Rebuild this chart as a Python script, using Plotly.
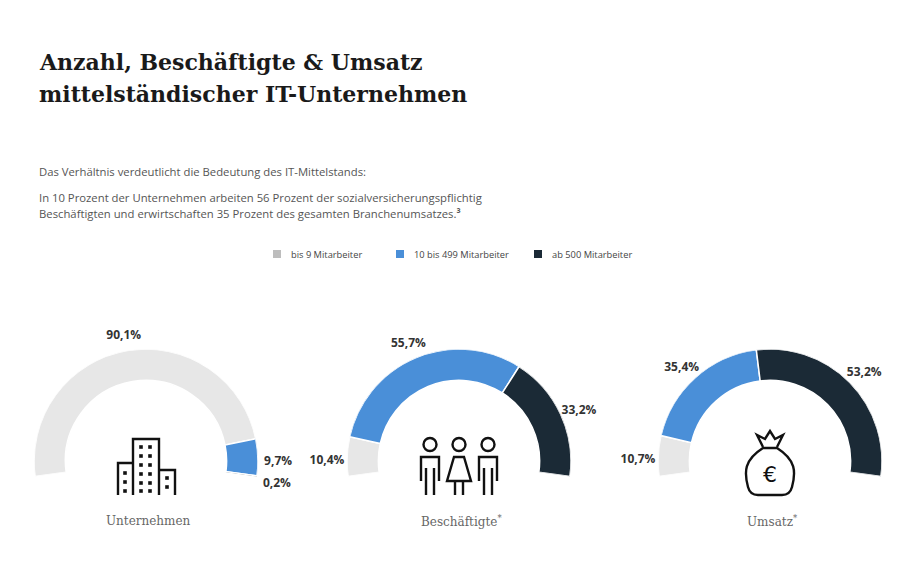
import math
import plotly.graph_objects as go

# ---------------- data ----------------
categories = ["Unternehmen", "Beschäftigte<sup>*</sup>", "Umsatz<sup>*</sup>"]
groups = ["bis 9 Mitarbeiter", "10 bis 499 Mitarbeiter", "ab 500 Mitarbeiter"]
unternehmen = [90.1, 9.7, 0.2]
beschaeftigte = [10.4, 55.7, 33.2]
umsatz = [10.7, 35.4, 53.2]

# ---------------- style ----------------
W, H = 900, 563
OFF = 8  # page body margin of the html page
arc_colors = ["#e7e7e7", "#4a8fd8", "#1b2a36"]
legend_colors = ["#bdbdbd", "#4a8fd8", "#1b2a36"]
SECTOR = [-8, 188]
SPAN = SECTOR[1] - SECTOR[0]
HOLE = 0.72
R_PX = 112
CENTERS = [(146, 461), (459, 461), (770, 461)]
LABEL_R = 1.18
LABEL_DY = 5

fig = go.Figure()

series = [unternehmen, beschaeftigte, umsatz]
lab_x, lab_y, lab_t = [], [], []
for k, vals in enumerate(series):
    pol = "polar" if k == 0 else f"polar{k + 1}"
    total = sum(vals)
    cum = 0.0
    thetas, widths = [], []
    for v in vals:
        f = v / total
        thetas.append(SECTOR[1] - SPAN * (cum + f / 2))
        widths.append(SPAN * f)
        cum += f
    fig.add_trace(go.Barpolar(
        r=[1 - HOLE] * len(vals), base=[HOLE] * len(vals),
        theta=thetas, width=widths,
        marker=dict(color=arc_colors, line=dict(color="white", width=1.5)),
        subplot=pol, showlegend=False, hoverinfo="skip",
    ))
    cx, cy = CENTERS[k]
    for v, th in zip(vals, thetas):
        lab_x.append(cx + LABEL_R * R_PX * math.cos(math.radians(th)))
        lab_y.append(cy - LABEL_R * R_PX * math.sin(math.radians(th)) + LABEL_DY)
        lab_t.append(f"{v:.1f}".replace(".", ",") + "%")

# percentage labels on a full-page pixel axis
fig.add_trace(go.Scatter(
    x=lab_x, y=lab_y, mode="text", text=lab_t,
    textfont=dict(family="Open Sans", size=12, color="#333333", weight="bold"),
    cliponaxis=False, showlegend=False, hoverinfo="skip",
))

layout = dict(
    width=W, height=H, margin=dict(l=0, r=0, t=0, b=0),
    paper_bgcolor="white", plot_bgcolor="white", showlegend=False,
    xaxis=dict(range=[OFF, W + OFF], visible=False, domain=[0, 1], fixedrange=True),
    yaxis=dict(range=[H + OFF, OFF], visible=False, domain=[0, 1], fixedrange=True),
)
sin_low = -math.sin(math.radians(SECTOR[0]))
for k, (cx, cy) in enumerate(CENTERS):
    name = "polar" if k == 0 else f"polar{k + 1}"
    layout[name] = dict(
        domain=dict(x=[(cx - R_PX - OFF) / W, (cx + R_PX - OFF) / W],
                    y=[1 - (cy + R_PX * sin_low - OFF) / H, 1 - (cy - R_PX - OFF) / H]),
        sector=SECTOR, hole=0, bgcolor="rgba(0,0,0,0)",
        radialaxis=dict(range=[0, 1], visible=False),
        angularaxis=dict(visible=False, direction="counterclockwise", rotation=0),
        barmode="overlay",
    )
fig.update_layout(**layout)

ann = []
# title
for t, y in (("Anzahl, Beschäftigte &amp; Umsatz", 72), ("mittelständischer IT-Unternehmen", 104)):
    ann.append(dict(x=37, y=y, xref="x", yref="y", xanchor="left", yanchor="bottom",
                    showarrow=False, text=f"<b>{t}</b>", yshift=-5,
                    font=dict(family="DejaVu Serif", size=22, color="#1a1a1a")))
# subtitle lines
sub_lines = [
    ("Das Verhältnis verdeutlicht die Bedeutung des IT-Mittelstands:", 171),
    ("In 10 Prozent der Unternehmen arbeiten 56 Prozent der sozialversicherungspflichtig", 197),
    ("Beschäftigten und erwirtschaften 35 Prozent des gesamten Branchenumsatzes.<b>³</b>", 213),
]
for t, y in sub_lines:
    ann.append(dict(x=37, y=y, xref="x", yref="y", xanchor="left", yanchor="middle",
                    showarrow=False, text=t,
                    font=dict(family="Open Sans", size=11.3, color="#555555")))
# legend
leg_x = [277, 400, 538]
shapes = []
for g, c, x in zip(groups, legend_colors, leg_x):
    shapes.append(dict(type="rect", xref="x", yref="y", x0=x - 4, x1=x + 4, y0=258, y1=250,
                       fillcolor=c, line=dict(width=0)))
    ann.append(dict(x=x + 12, y=254, xref="x", yref="y", xanchor="left",
                    yanchor="middle", showarrow=False, text=g,
                    font=dict(family="Open Sans", size=9.3, color="#444444")))
# category labels
for cat, (cx, cy) in zip(categories, CENTERS):
    ann.append(dict(x=cx + 2, y=521, xref="x", yref="y", xanchor="center",
                    yanchor="middle", showarrow=False, text=cat,
                    font=dict(family="DejaVu Serif", size=12, color="#666666")))


def path(pts, close=False):
    s = "M " + " L ".join(f"{x},{y}" for x, y in pts)
    return s + (" Z" if close else "")


ink = dict(color="#111111", width=2.4)
# building icon
bx = CENTERS[0][0]
for pts in [
    [(bx - 13, 495), (bx - 13, 439), (bx + 13, 439), (bx + 13, 495)],
    [(bx - 28, 495), (bx - 28, 463), (bx - 13, 463)],
    [(bx + 13, 470), (bx + 29, 470), (bx + 29, 495)],
]:
    shapes.append(dict(type="path", xref="x", yref="y", path=path(pts), line=ink))
wins = [(bx - 5, y) for y in (447, 456, 465, 474, 483, 491)] + \
       [(bx + 4, y) for y in (447, 456, 465, 474, 483, 491)] + \
       [(bx - 21, y) for y in (473, 482, 491)] + [(bx + 21, y) for y in (478, 487)]
for x, y in wins:
    shapes.append(dict(type="rect", xref="x", yref="y", x0=x - 1.8, x1=x + 1.8,
                       y0=y + 1.8, y1=y - 1.8, fillcolor="#111111", line=dict(width=0)))

# people icon
p0 = CENTERS[1][0]
for i, dx in enumerate((-29, 0, 29)):
    cx = p0 + dx
    shapes.append(dict(type="circle", xref="x", yref="y",
                       x0=cx - 6.5, x1=cx + 6.5, y0=451, y1=438, line=ink))
    if i == 1:
        body = [(cx - 5, 457), (cx + 5, 457), (cx + 12, 481), (cx - 12, 481)]
        shapes.append(dict(type="path", xref="x", yref="y", path=path(body, True), line=ink))
        for lx in (cx - 4, cx + 4):
            shapes.append(dict(type="path", xref="x", yref="y",
                               path=path([(lx, 481), (lx, 495)]), line=ink))
    else:
        body = [(cx - 9, 481), (cx - 9, 457), (cx + 9, 457), (cx + 9, 481)]
        shapes.append(dict(type="path", xref="x", yref="y", path=path(body), line=ink))
        for lx in (cx - 4, cx + 4):
            shapes.append(dict(type="path", xref="x", yref="y",
                               path=path([(lx, 468), (lx, 495)]), line=ink))

# money bag icon
mx = CENTERS[2][0]
bag = (f"M {mx - 7},448 C {mx - 26},460 {mx - 26},472 {mx - 22},487 "
       f"Q {mx - 20},495 {mx - 12},495 L {mx + 12},495 "
       f"Q {mx + 20},495 {mx + 22},487 "
       f"C {mx + 26},472 {mx + 26},460 {mx + 7},448 Z")
shapes.append(dict(type="path", xref="x", yref="y", path=bag, line=ink))
crown = [(mx - 7, 447), (mx - 13, 435), (mx - 5, 439), (mx, 431), (mx + 5, 439), (mx + 13, 435), (mx + 7, 447)]
shapes.append(dict(type="path", xref="x", yref="y", path=path(crown), line=ink))
ann.append(dict(x=mx, y=474, xref="x", yref="y", xanchor="center", yanchor="middle",
                showarrow=False, text="€", font=dict(family="DejaVu Sans", size=22, color="#111111")))

fig.update_layout(annotations=ann, shapes=shapes)
fig.write_html("out.html")
